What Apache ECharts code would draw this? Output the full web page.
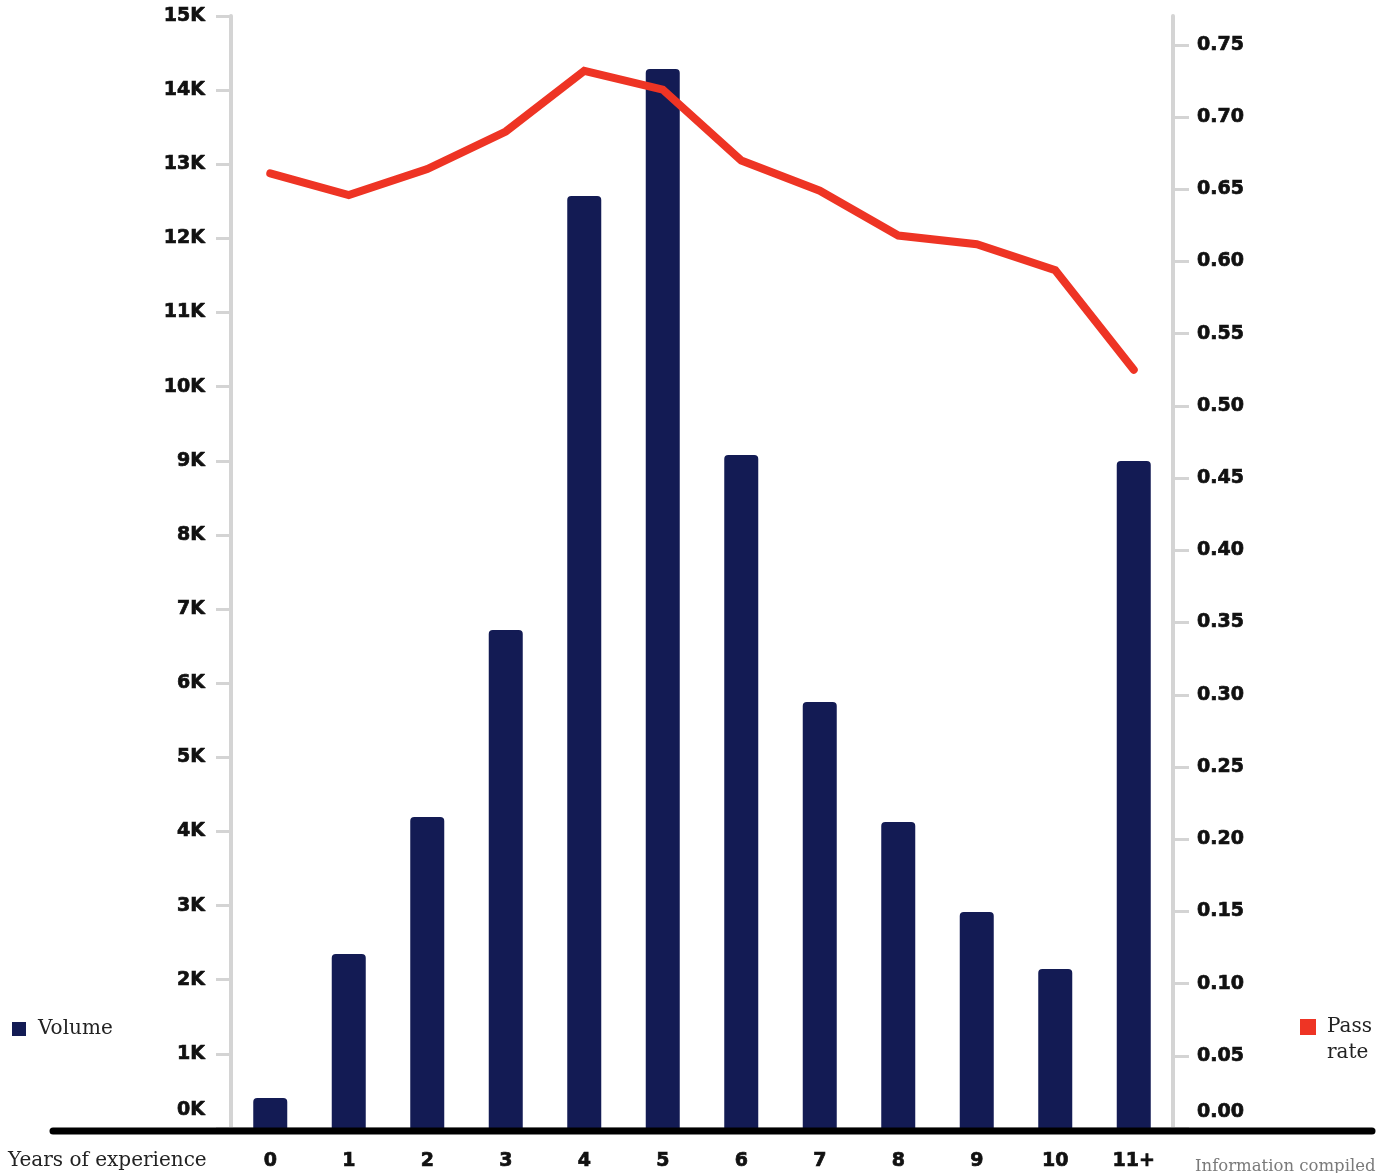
<!DOCTYPE html>
<html>
<head>
<meta charset="utf-8">
<script src="https://cdn.jsdelivr.net/npm/echarts@6/dist/echarts.min.js"></script>
<style>
html,body{margin:0;padding:0;background:#fff;}
#chart{width:1388px;height:1173px;}
</style>
</head>
<body>
<div id="chart"></div>
<script>
var categories = ['0','1','2','3','4','5','6','7','8','9','10','11+'];
var volume = [405, 2347, 4195, 6718, 12572, 14285, 9078, 5747, 4128, 2914, 2145, 8998];
var passRate = [0.661, 0.646, 0.664, 0.690, 0.732, 0.719, 0.670, 0.649, 0.618, 0.612, 0.594, 0.525];
var leftTickLabels = ['0K','1K','2K','3K','4K','5K','6K','7K','8K','9K','10K','11K','12K','13K','14K','15K'];

var SANS = '"DejaVu Sans", sans-serif';
var SERIF = '"DejaVu Serif", "Liberation Serif", serif';
var GRAY = '#d4d4d4';
var NAVY = '#131b54';
var RED = '#ee3424';
var INK = '#111';

function tickFont(extra) {
  var o = { fontFamily: SANS, fontWeight: 'bold', fontSize: 19, color: INK, textBorderColor: INK, textBorderWidth: 0.7 };
  for (var k in extra) o[k] = extra[k];
  return o;
}

var chart = echarts.init(document.getElementById('chart'));
chart.setOption({
  animation: false,
  backgroundColor: '#fff',
  grid: { left: 231, right: 215, top: 16, bottom: 45, containLabel: false },
  legend: [
    {
      data: ['Volume'], left: 12, top: 1018, padding: 0, icon: 'rect',
      itemWidth: 14, itemHeight: 14, itemGap: 11,
      textStyle: { fontFamily: SERIF, fontSize: 20, lineHeight: 22, color: '#222', padding: [0, 0, 0, 7] }
    },
    {
      data: ['Pass rate'], left: 1300, top: 988, padding: 0, icon: 'rect',
      itemWidth: 16, itemHeight: 16, itemGap: 11,
      formatter: function () { return ' \nPass\nrate'; },
      textStyle: { fontFamily: SERIF, fontSize: 20, color: '#222', lineHeight: 26, padding: [0, 0, 0, 6] }
    }
  ],
  xAxis: [
    {
      type: 'category', data: categories, position: 'bottom',
      axisLine: { show: false }, axisTick: { show: false },
      axisLabel: tickFont({ margin: 24 })
    },
    {
      type: 'category', data: categories, position: 'top',
      axisLine: { show: true, lineStyle: { color: GRAY, width: 3 } },
      axisTick: { show: false }, axisLabel: { show: false }
    }
  ],
  yAxis: [
    {
      type: 'value', min: 0, max: 15000, interval: 1000, position: 'left',
      splitLine: { show: false },
      axisLine: { show: true, lineStyle: { color: GRAY, width: 4 } },
      axisTick: { show: true, length: 15, lineStyle: { color: GRAY, width: 3 } },
      axisLabel: tickFont({
        margin: 26,
        formatter: function (v) {
          var s = leftTickLabels[Math.round(v / 1000)];
          return v === 0 ? '{z|' + s + '}' : s;
        },
        rich: { z: tickFont({ padding: [0, 0, 36, 0] }) }
      })
    },
    {
      type: 'value', min: 0, max: 0.77, interval: 0.05, position: 'right',
      splitLine: { show: false },
      axisLine: { show: true, lineStyle: { color: GRAY, width: 4 } },
      axisTick: { show: true, length: 16, lineStyle: { color: GRAY, width: 3 } },
      axisLabel: tickFont({
        margin: 24,
        showMaxLabel: false,
        formatter: function (v) {
          var s = v.toFixed(2);
          return v === 0 ? '{z|' + s + '}' : s;
        },
        rich: { z: tickFont({ padding: [0, 0, 32, 0] }) }
      })
    }
  ],
  series: [
    {
      name: 'Volume', type: 'bar', data: volume, xAxisIndex: 0, yAxisIndex: 0,
      barWidth: 34, itemStyle: { color: NAVY, borderRadius: [4, 4, 0, 0] }, z: 2
    },
    {
      name: 'Pass rate', type: 'line', data: passRate, xAxisIndex: 0, yAxisIndex: 1,
      symbol: 'none', itemStyle: { color: RED },
      lineStyle: { color: RED, width: 8, cap: 'round', join: 'miter' }, z: 3
    }
  ],
  graphic: [
    {
      type: 'line', z: 10,
      shape: { x1: 53, y1: 1131, x2: 1372, y2: 1131 },
      style: { stroke: '#000', lineWidth: 7, lineCap: 'round' }
    },
    {
      type: 'text', left: 8, top: 1151, z: 10,
      style: { text: 'Years of experience', fontFamily: SERIF, fontSize: 20, fill: '#222' }
    },
    {
      type: 'text', left: 1195, top: 1158, z: 10,
      style: { text: 'Information compiled', fontFamily: SERIF, fontSize: 16.5, fill: '#7a7a7a' }
    }
  ]
});
</script>
</body>
</html>
